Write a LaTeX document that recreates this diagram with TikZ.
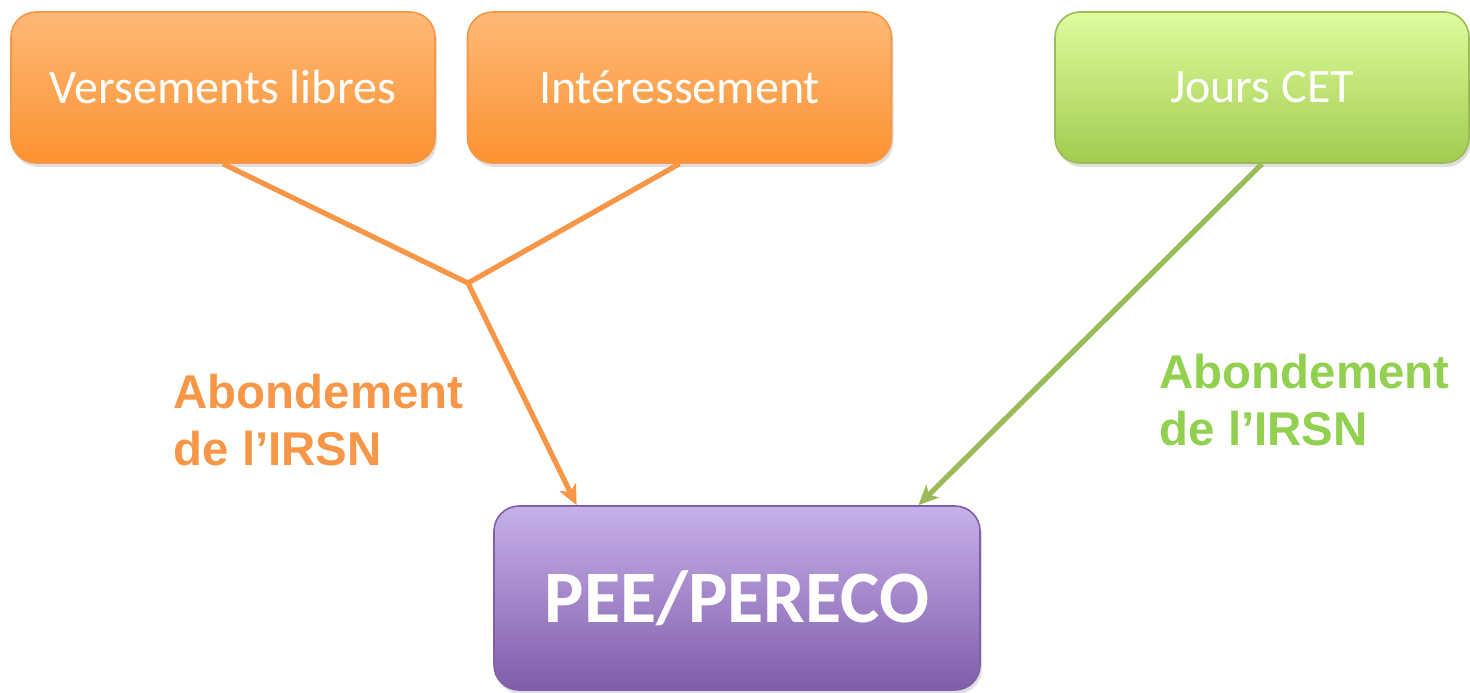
\documentclass[tikz,border=0pt]{standalone}
\usepackage{fontspec}
\setmainfont{Carlito}
\newfontfamily\labelfont{Liberation Sans}
\usetikzlibrary{arrows.meta, calc, shadows}

\definecolor{orangeline}{HTML}{F79646}
\definecolor{orangetop}{HTML}{FDB977}
\definecolor{orangebot}{HTML}{FC9231}
\definecolor{greenline}{HTML}{9BBB59}
\definecolor{greentext}{HTML}{92D050}
\definecolor{greentop}{HTML}{DDFC9E}
\definecolor{greenbot}{HTML}{A2CB4F}
\definecolor{purpleline}{HTML}{7E5FA8}
\definecolor{purpletop}{HTML}{C7B0EA}
\definecolor{purplebot}{HTML}{7F5DAA}

\begin{document}
\begin{tikzpicture}[x=0.5pt,y=-0.5pt,>={Stealth[length=10pt,width=9pt,inset=2.5pt]},line width=2.6pt,
  box/.style={rectangle,rounded corners=12.5pt,inner sep=0pt,line width=0.8pt,
    text=white,font=\fontsize{24}{29}\selectfont,
    drop shadow={opacity=0.25,shadow xshift=1pt,shadow yshift=-2pt}},
  orange box/.style={box,draw=orangeline,top color=orangetop,bottom color=orangebot,
    minimum width=212pt,minimum height=75.5pt},
  green box/.style={box,draw=greenline,top color=greentop,bottom color=greenbot,
    minimum width=207pt,minimum height=75.5pt},
  main box/.style={box,draw=purpleline,top color=purpletop,bottom color=purplebot,
    minimum width=243pt,minimum height=92pt,font=\bfseries\fontsize{37}{40}\selectfont},
  label/.style={align=left,anchor=west,inner sep=0pt,
    font=\labelfont\bfseries\fontsize{23.7}{28.5}\selectfont}]
  \useasboundingbox (0,0) rectangle (1470,692);

  \node[orange box] (libres) at (223,87.5) {Versements libres};
  \node[orange box] (interess) at (679.5,87.5) {Intéressement};
  \node[green box] (cet) at (1262,87.5) {Jours CET};
  \node[main box] (pee) at (737,598) {PEE/PERECO};
  \coordinate (join) at (468,283);

  \draw[orangeline] (libres.south) -- (join);
  \draw[orangeline] (interess.south) -- (join);
  \draw[orangeline,->] (join) -- ($(pee.north west)!0.171!(pee.north east)$);
  \draw[greenline,->] (cet.south) -- ($(pee.north west)!0.872!(pee.north east)$);

  \node[label,text=orangeline] (aboorange) at (171,420) {Abondement\\de l’IRSN};
  \node[label,text=greentext] (abogreen) at (1157,400) {Abondement\\de l’IRSN};
\end{tikzpicture}
\end{document}
